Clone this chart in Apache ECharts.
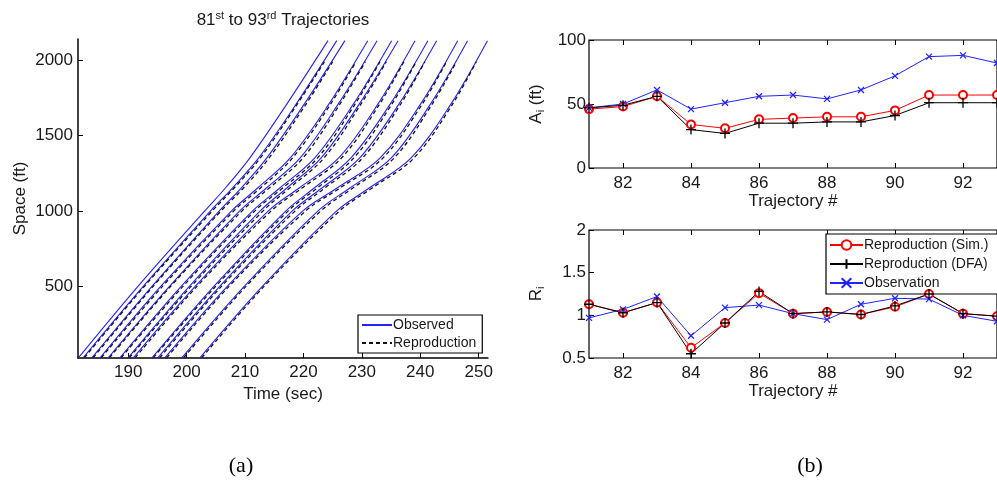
<!DOCTYPE html>
<html>
<head>
<meta charset="utf-8">
<script src="https://cdn.jsdelivr.net/npm/echarts@6/dist/echarts.min.js"></script>
<style>
  html, body { margin: 0; padding: 0; background: #fff; }
  #chart { width: 997px; height: 485px; }
</style>
</head>
<body>
<div id="chart"></div>
<script>
// ---- (a) vehicle trajectories: time (s) at which each vehicle reaches a given position (ft)
const spaceLevels = [25, 500, 1000, 1150, 1350, 1700, 2130];
const observedTimes = [
  [181.5, 191.7, 203.1, 206.6, 210.8, 217.0, 224.2],
  [182.3, 192.6, 204.1, 207.8, 212.3, 218.6, 225.7],
  [183.8, 194.1, 205.6, 209.3, 213.7, 220.0, 227.1],
  [185.2, 195.6, 207.7, 212.1, 217.7, 224.2, 231.0],
  [186.6, 197.1, 209.1, 213.6, 219.4, 225.8, 232.6],
  [188.6, 199.1, 211.3, 215.9, 221.9, 228.4, 235.1],
  [190.0, 200.5, 212.6, 217.1, 223.0, 229.4, 236.2],
  [190.9, 201.5, 214.0, 219.2, 226.0, 232.6, 239.1],
  [194.1, 204.7, 217.0, 221.8, 228.1, 234.7, 241.3],
  [195.1, 205.7, 218.1, 223.1, 229.6, 236.2, 242.8],
  [196.3, 207.0, 219.9, 225.7, 233.1, 239.9, 246.4],
  [199.2, 209.9, 222.5, 227.9, 235.0, 241.6, 248.1],
  [202.3, 213.0, 225.7, 231.2, 238.4, 245.1, 251.5]
];
const reproLevels = [25, 500, 1000, 1150, 1350, 1700, 1990];
const reproTimes = [
  [182.5, 192.8, 204.4, 208.1, 212.6, 218.8, 223.6],
  [184.0, 194.3, 205.9, 209.7, 214.1, 220.3, 225.0],
  [185.4, 195.9, 208.1, 212.6, 218.1, 224.5, 229.0],
  [186.8, 197.3, 209.5, 214.1, 219.9, 226.1, 230.6],
  [188.8, 199.4, 211.7, 216.4, 222.4, 228.7, 233.1],
  [190.2, 200.8, 213.1, 217.6, 223.5, 229.7, 234.2],
  [191.2, 201.8, 214.5, 219.7, 226.5, 232.9, 237.2],
  [194.3, 205.0, 217.4, 222.3, 228.6, 235.0, 239.3],
  [195.4, 206.0, 218.6, 223.6, 230.1, 236.5, 240.8],
  [196.6, 207.3, 220.4, 226.2, 233.6, 240.2, 244.5],
  [199.5, 210.2, 223.0, 228.4, 235.5, 241.9, 246.2],
  [202.6, 213.3, 226.2, 231.7, 238.9, 245.4, 249.6]
];
const timeTicks = [190, 200, 210, 220, 230, 240, 250];
const spaceTicks = [500, 1000, 1500, 2000];

// ---- (b) per-trajectory parameters
const trajectoryIds = [81, 82, 83, 84, 85, 86, 87, 88, 89, 90, 91, 92, 93];
const aSim = [46, 48, 56, 34, 31, 38, 39, 40, 40, 45, 57, 57, 57];
const aDfa = [47, 49, 56, 30, 27, 35, 35, 36, 36, 41, 51, 51, 51];
const aObs = [47, 50, 61, 46, 51, 56, 57, 54, 61, 72, 87, 88, 82];
const rSim = [1.13, 1.03, 1.15, 0.62, 0.91, 1.26, 1.02, 1.04, 1.01, 1.10, 1.25, 1.02, 0.99];
const rDfa = [1.13, 1.03, 1.15, 0.55, 0.91, 1.28, 1.02, 1.04, 1.01, 1.11, 1.25, 1.02, 0.99];
const rObs = [0.97, 1.07, 1.22, 0.76, 1.09, 1.12, 1.02, 0.95, 1.13, 1.20, 1.19, 1.00, 0.93];
const trajectoryTicks = [82, 84, 86, 88, 90, 92];

const FONT = '"Liberation Sans", Arial, sans-serif';
const TXT = '#1a1a1a';
const BLUE = '#2222ff';
const PLUS = 'path://M5,0L5,10M0,5L10,5';
const CROSS = 'path://M0,0L10,10M10,0L0,10';

const chart = echarts.init(document.getElementById('chart'), null, { renderer: 'canvas' });

function pairs(times, levels) { return times.map((t, k) => [t, levels[k]]); }
function zipIds(vals) { return vals.map((v, k) => [trajectoryIds[k], v]); }

const series = [];
observedTimes.forEach((row) => {
  series.push({
    name: 'Observed', type: 'line', xAxisIndex: 0, yAxisIndex: 0,
    data: pairs(row, spaceLevels), smooth: 0.35, showSymbol: false, symbol: 'none',
    lineStyle: { color: BLUE, width: 1.1 }, itemStyle: { color: BLUE }, z: 2
  });
});
reproTimes.forEach((row) => {
  series.push({
    name: 'Reproduction', type: 'line', xAxisIndex: 0, yAxisIndex: 0,
    data: pairs(row, reproLevels), smooth: 0.35, showSymbol: false, symbol: 'none',
    lineStyle: { color: '#111', width: 1.3, type: [4, 3] }, itemStyle: { color: '#111' }, z: 3
  });
});

function paramSeries(name, vals, xi, yi, color, symbol, size) {
  const hollow = symbol !== 'emptyCircle';
  return {
    name, type: 'line', xAxisIndex: xi, yAxisIndex: yi, data: zipIds(vals),
    symbol, symbolSize: size, showSymbol: true,
    lineStyle: { color, width: 1 },
    itemStyle: hollow ? { color: 'rgba(0,0,0,0)', borderColor: color, borderWidth: 1.3 }
                      : { color, borderColor: color, borderWidth: 1 },
    z: 4
  };
}
series.push(paramSeries('Reproduction (Sim.)', aSim, 1, 1, '#ff0000', 'emptyCircle', 8));
series.push(paramSeries('Observation', aObs, 1, 1, BLUE, CROSS, 6));
series.push(paramSeries('Reproduction (DFA)', aDfa, 1, 1, '#000000', PLUS, 10));
series.push(paramSeries('Reproduction (Sim.)', rSim, 2, 2, '#ff0000', 'emptyCircle', 8));
series.push(paramSeries('Observation', rObs, 2, 2, BLUE, CROSS, 6));
series.push(paramSeries('Reproduction (DFA)', rDfa, 2, 2, '#000000', PLUS, 10));

const labelStyle = { color: TXT, fontFamily: FONT, fontSize: 17 };
const nameStyle = { color: TXT, fontFamily: FONT, fontSize: 17 };
const subRich = { sub: { fontFamily: FONT, fontSize: 11, color: TXT, padding: [8, 0, 0, 0] } };

function trajAxis(gi, showLabels) {
  return {
    type: 'value', gridIndex: gi, min: 81, max: 93,
    position: showLabels ? 'bottom' : 'top',
    axisLine: { show: false },
    splitLine: { show: false },
    axisTick: { show: true, inside: true, length: 5, lineStyle: { color: '#000' }, customValues: trajectoryTicks },
    axisLabel: { show: showLabels, margin: 7, ...labelStyle, customValues: trajectoryTicks },
    name: showLabels ? 'Trajectory #' : '', nameLocation: 'middle', nameGap: 23, nameTextStyle: nameStyle
  };
}

const option = {
  animation: false,
  backgroundColor: '#ffffff',
  grid: [
    { left: 78, top: 39, width: 410, height: 319, show: false },
    { left: 589, top: 40, width: 412, height: 128, show: true, borderColor: '#000', borderWidth: 1.2, backgroundColor: 'rgba(0,0,0,0)' },
    { left: 589, top: 230, width: 412, height: 128, show: true, borderColor: '#000', borderWidth: 1.2, backgroundColor: 'rgba(0,0,0,0)' }
  ],
  xAxis: [
    {
      type: 'value', gridIndex: 0, min: 181.4, max: 251.6,
      axisLine: { show: true, lineStyle: { color: '#000', width: 1.5 } },
      splitLine: { show: false },
      axisTick: { show: true, inside: true, length: 5, lineStyle: { color: '#000' }, customValues: timeTicks },
      axisLabel: { margin: 6, ...labelStyle, customValues: timeTicks, formatter: (v) => String(v) },
      name: 'Time (sec)', nameLocation: 'middle', nameGap: 23, nameTextStyle: nameStyle
    },
    trajAxis(1, true),
    trajAxis(2, true),
    trajAxis(1, false),
    trajAxis(2, false)
  ],
  yAxis: [
    {
      type: 'value', gridIndex: 0, min: 23, max: 2141,
      axisLine: { show: true, lineStyle: { color: '#000', width: 1.5 } },
      splitLine: { show: false },
      axisTick: { show: true, inside: true, length: 5, lineStyle: { color: '#000' }, customValues: spaceTicks },
      axisLabel: { margin: 5, ...labelStyle, customValues: spaceTicks, formatter: (v) => String(v) },
      name: 'Space (ft)', nameLocation: 'middle', nameGap: 49, nameTextStyle: nameStyle
    },
    {
      type: 'value', gridIndex: 1, min: 0, max: 100, interval: 50,
      axisLine: { show: false }, splitLine: { show: false },
      axisTick: { show: true, inside: true, length: 5, lineStyle: { color: '#000' } },
      axisLabel: { margin: 3, ...labelStyle },
      name: 'A{sub|i} (ft)', nameLocation: 'middle', nameGap: 43,
      nameTextStyle: { ...nameStyle, rich: subRich }
    },
    {
      type: 'value', gridIndex: 2, min: 0.5, max: 2, interval: 0.5,
      axisLine: { show: false }, splitLine: { show: false },
      axisTick: { show: true, inside: true, length: 5, lineStyle: { color: '#000' } },
      axisLabel: { margin: 3, ...labelStyle, formatter: (v) => (Number.isInteger(v) ? String(v) : v.toFixed(1)) },
      name: 'R{sub|i}', nameLocation: 'middle', nameGap: 43,
      nameTextStyle: { ...nameStyle, rich: subRich }
    }
  ],
  legend: [
    {
      data: ['Observed', 'Reproduction'],
      left: 358, top: 315, orient: 'vertical',
      itemWidth: 30, itemHeight: 12, itemGap: 4,
      padding: [3, 6, 3, 3],
      backgroundColor: '#fff', borderColor: '#000', borderWidth: 1.2,
      itemStyle: { opacity: 0 },
      textStyle: { color: TXT, fontFamily: FONT, fontSize: 14, padding: [0, 0, 0, -4] },
      selectedMode: false
    },
    {
      data: ['Reproduction (Sim.)', 'Reproduction (DFA)', 'Observation'],
      left: 826, top: 234, orient: 'vertical',
      itemWidth: 33, itemHeight: 12, itemGap: 5,
      padding: [4, 20, 4, 3],
      backgroundColor: '#fff', borderColor: '#000', borderWidth: 1.2,
      textStyle: { color: TXT, fontFamily: FONT, fontSize: 14, padding: [0, 0, 0, -4] },
      selectedMode: false
    }
  ],
  graphic: [
    {
      type: 'text', x: 283, y: 20,
      style: {
        text: '{n|81}{s|st}{n| to 93}{s|rd}{n| Trajectories}',
        align: 'center', verticalAlign: 'middle',
        rich: {
          n: { fontFamily: FONT, fontSize: 17, fill: TXT },
          s: { fontFamily: FONT, fontSize: 11, fill: TXT, padding: [0, 0, 8, 0] }
        }
      }
    },
    {
      type: 'text', x: 241, y: 466,
      style: { text: '(a)', font: '22px "Liberation Serif", "Times New Roman", serif', fill: '#000', align: 'center', verticalAlign: 'middle' }
    },
    {
      type: 'text', x: 810, y: 466,
      style: { text: '(b)', font: '22px "Liberation Serif", "Times New Roman", serif', fill: '#000', align: 'center', verticalAlign: 'middle' }
    }
  ],
  series
};

chart.setOption(option);
</script>
</body>
</html>
